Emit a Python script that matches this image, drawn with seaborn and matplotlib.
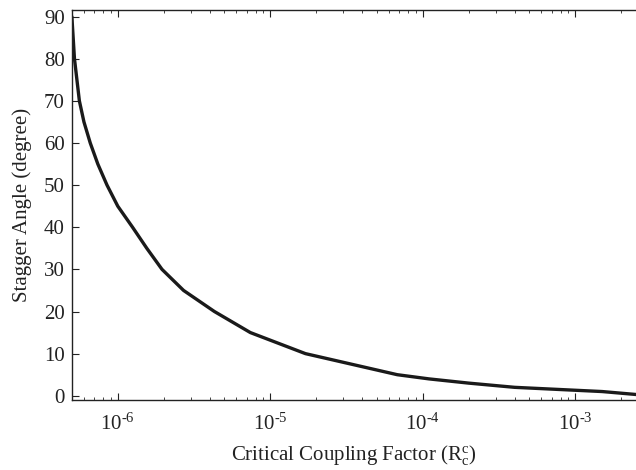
import numpy as np
import pandas as pd
import matplotlib
matplotlib.use("Agg")
import matplotlib.pyplot as plt
import matplotlib.ticker as mticker
import seaborn as sns

# Values
coupling = [5.0e-7, 5.2e-7, 5.6e-7, 6.0e-7, 6.6e-7, 7.4e-7, 8.5e-7, 1.0e-6,
            1.25e-6, 1.55e-6, 1.95e-6, 2.7e-6, 4.3e-6, 7.4e-6, 1.7e-5,
            6.8e-5, 1.1e-4, 2.0e-4, 4.0e-4, 1.5e-3, 2.5e-3]
angle = [90, 80, 70, 65, 60, 55, 50, 45, 40, 35, 30, 25, 20, 15, 10,
         5, 4, 3, 2, 1, 0.3]

x_ticks = [1e-6, 1e-5, 1e-4, 1e-3]
x_labels = [r"10$^{\text{-6}}$", r"10$^{\text{-5}}$", r"10$^{\text{-4}}$",
            r"10$^{\text{-3}}$"]
y_ticks = [0, 10, 20, 30, 40, 50, 60, 70, 80, 90]

df = pd.DataFrame({"coupling": coupling, "angle": angle})

sns.set_style("ticks")
plt.rcParams["font.family"] = ["Liberation Serif", "DejaVu Serif"]
plt.rcParams["mathtext.fontset"] = "custom"
plt.rcParams["mathtext.rm"] = "Liberation Serif"
plt.rcParams["mathtext.it"] = "Liberation Serif:italic"
plt.rcParams["axes.unicode_minus"] = False

fig = plt.figure(figsize=(6.36, 4.70), dpi=100)
ax = fig.add_axes([0.113, 0.149, 0.887, 0.830])

sns.lineplot(data=df, x="coupling", y="angle", color="#1a1a1a",
             linewidth=2.4, sort=False, estimator=None, ax=ax)

ax.set_xscale("log")
ax.set_xlim(5e-7, 2.5e-3)
ax.set_ylim(-1, 91.6)
ax.set_xticks(x_ticks)
ax.set_xticklabels(x_labels)
ax.xaxis.set_minor_locator(mticker.LogLocator(base=10, subs=np.arange(2, 10)))
ax.xaxis.set_minor_formatter(mticker.NullFormatter())
ax.set_yticks(y_ticks)

ax.tick_params(axis="x", which="major", direction="in", length=5, width=0.8,
               top=True, labelsize=15, pad=10, colors="#222222")
ax.tick_params(axis="x", which="minor", direction="in", length=2.5, width=0.6,
               top=True)
ax.tick_params(axis="y", which="major", direction="in", length=5, width=0.8,
               right=False, labelsize=15, pad=5, colors="#222222")

for side in ["left", "bottom", "top"]:
    ax.spines[side].set_linewidth(1.0)
    ax.spines[side].set_color("#222222")
ax.spines["right"].set_visible(False)

ax.set_xlabel(r"Critical Coupling Factor (R$_\mathrm{c}^\mathrm{c}$)",
              fontsize=15, labelpad=6, color="#222222")
ax.set_ylabel("Stagger Angle (degree)", fontsize=15, labelpad=9,
              color="#222222")

fig.savefig("out.png", dpi=100)
